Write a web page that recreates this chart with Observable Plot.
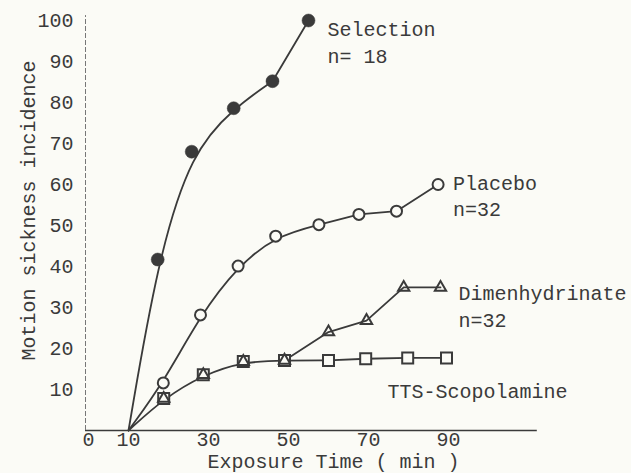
<!DOCTYPE html>
<html><head><meta charset="utf-8">
<script src="https://cdn.jsdelivr.net/npm/d3@7"></script>
<script src="https://cdn.jsdelivr.net/npm/@observablehq/plot@0.6"></script>
<style>
html,body{margin:0;padding:0;background:#fbfbf6;}
#chart svg{display:block;}
</style></head><body><div id="chart"></div>
<script>
// Exposure time (min) and motion sickness incidence (%)
const selT = [17.3, 25.8, 36.3, 46, 55];
const selV = [41.7, 68, 78.6, 85.2, 100];
const plaT = [18.7, 28, 37.4, 46.8, 57.6, 67.6, 77, 87.4];
const plaV = [11.6, 28.2, 40.1, 47.4, 50.2, 52.7, 53.5, 60];
const dimT = [18.8, 28.7, 38.7, 49, 60, 69.5, 78.8, 88];
const dimV = [7.8, 13.6, 16.8, 17.1, 24, 26.8, 34.9, 34.9];
const ttsT = [18.8, 28.7, 38.7, 49, 60, 69.3, 79.8, 89.5];
const ttsV = [7.8, 13.6, 16.8, 17.1, 17.1, 17.5, 17.7, 17.7];
const startT = 10, startV = 0;          // all curves start at (10 min, 0)
const xTicks = [0, 10, 30, 50, 70, 90];
const yTicks = [10, 20, 30, 40, 50, 60, 70, 80, 90, 100];
const xTitle = "Exposure Time ( min )";
const yTitle = "Motion sickness incidence";
const selLabel = "Selection\nn= 18";
const plaLabel = "Placebo\nn=32";
const dimLabel = "Dimenhydrinate\nn=32";
const ttsLabel = "TTS-Scopolamine";

const pts = (T, V) => T.map((t, i) => ({t, v: V[i]}));
const start = {t: startT, v: startV};
const sel = pts(selT, selV), pla = pts(plaT, plaV), dim = pts(dimT, dimV), tts = pts(ttsT, ttsV);
const ink = "#3a3a3a";
const bg = "#fbfbf6";
const lineStyle = {x: "t", y: "v", stroke: ink, strokeWidth: 1.8};

const chart = Plot.plot({
  width: 631, height: 473,
  marginLeft: 88, marginRight: 183, marginTop: 20, marginBottom: 43,
  style: {fontFamily: "'Liberation Mono', 'DejaVu Sans Mono', monospace", fontSize: "20px", color: ink, background: bg},
  x: {domain: [0, 90]},
  y: {domain: [0, 100]},
  marks: [
    Plot.ruleY([0], {x1: -0.75, x2: 112.2, stroke: ink, strokeWidth: 1.5}),
    Plot.ruleX([-0.75], {y1: 0, y2: 101.2, stroke: "#777", strokeWidth: 1, strokeDasharray: "5,2"}),
    Plot.axisX({ticks: xTicks, tickSize: 0, tickPadding: 1, label: null, fontSize: 20}),
    Plot.axisY({ticks: yTicks, tickSize: 0, tickPadding: 15, label: null, fontSize: 20}),
    Plot.text([xTitle], {frameAnchor: "bottom", lineAnchor: "middle", dx: 65, dy: 31, fontSize: 20, fill: ink}),
    Plot.text([yTitle], {frameAnchor: "left", textAnchor: "middle", lineAnchor: "middle", rotate: -90, dx: -60, dy: -15, fontSize: 20, fill: ink}),
    // curves: smooth hand-fitted rise, then straight segments
    Plot.line([start, ...sel.slice(0, 4)], {...lineStyle, curve: "basis"}),
    Plot.line(sel.slice(3), {...lineStyle, curve: "linear"}),
    Plot.line([start, ...pla.slice(0, 6)], {...lineStyle, curve: "basis"}),
    Plot.line(pla.slice(5), {...lineStyle, curve: "linear"}),
    Plot.line([start, ...tts.slice(0, 5)], {...lineStyle, curve: "basis"}),
    Plot.line(tts.slice(4), {...lineStyle, curve: "linear"}),
    Plot.line(dim.slice(3), {...lineStyle, curve: "linear"}),
    // markers
    Plot.dot(sel, {x: "t", y: "v", r: 6.5, fill: ink, stroke: ink, strokeWidth: 0.5}),
    Plot.dot(pla, {x: "t", y: "v", r: 5.5, fill: bg, stroke: ink, strokeWidth: 2}),
    Plot.dot(tts, {x: "t", y: "v", symbol: "square", r: 6.2, fill: bg, stroke: ink, strokeWidth: 2}),
    Plot.dot(dim, {x: "t", y: "v", symbol: "triangle", r: 4.2, fill: "none", stroke: ink, strokeWidth: 2}),
    // series labels
    Plot.text(sel.slice(-1), {x: "t", y: "v", text: () => selLabel, textAnchor: "start", lineAnchor: "middle", lineHeight: 1.35, dx: 19, dy: 20, fill: ink}),
    Plot.text(pla.slice(-1), {x: "t", y: "v", text: () => plaLabel, textAnchor: "start", lineAnchor: "middle", lineHeight: 1.3, dx: 15, dy: 10, fill: ink}),
    Plot.text(dim.slice(-1), {x: "t", y: "v", text: () => dimLabel, textAnchor: "start", lineAnchor: "middle", lineHeight: 1.35, dx: 18, dy: 17, fill: ink}),
    Plot.text(tts.slice(-1), {x: "t", y: "v", text: () => ttsLabel, textAnchor: "end", lineAnchor: "middle", dx: 121, dy: 34, fill: ink})
  ]
});
document.getElementById("chart").appendChild(chart);
</script></body></html>
